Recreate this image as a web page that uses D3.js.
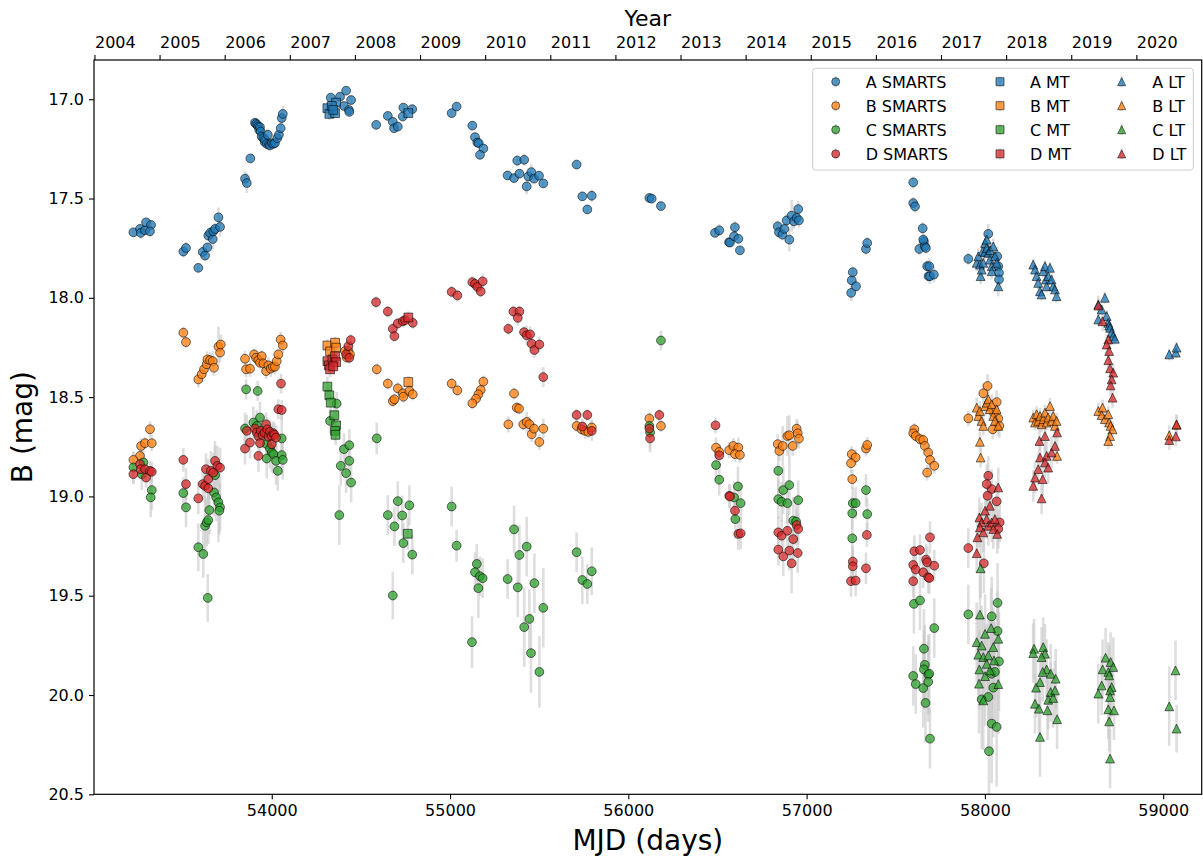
<!DOCTYPE html>
<html>
<head>
<meta charset="utf-8">
<script src="https://cdn.jsdelivr.net/npm/d3@7"></script>
<style>
  body { margin: 0; background: #fff; }
  text { font-family: "DejaVu Sans", sans-serif; fill: #000; }
</style>
</head>
<body>
<svg id="chart" width="1203" height="864"></svg>
<script>
// Light curves of the four lensed images, rows are [MJD, B mag, error]

const aSmarts = [
  [53224,17.670,0.02],[53261,17.653,0.02],[53265,17.673,0.03],[53289,17.660,0.02],[53295,17.620,0.02],[53323,17.633,0.02],[53317,17.665,0.03],
  [53504,17.767,0.03],[53519,17.749,0.03],[53588,17.849,0.02],[53613,17.769,0.03],[53626,17.787,0.03],[53639,17.746,0.02],[53644,17.687,0.02],
  [53654,17.673,0.03],[53669,17.704,0.05],[53672,17.665,0.03],[53682,17.653,0.03],[53701,17.595,0.05],[53710,17.643,0.05],
  [53850,17.400,0.04],[53860,17.422,0.05],[53880,17.298,0.02],[53906,17.118,0.02],[53912,17.124,0.02],[53920,17.130,0.02],[53925,17.138,0.02],
  [53930,17.155,0.02],[53934,17.141,0.02],[53938,17.163,0.03],[53944,17.188,0.02],[53953,17.196,0.03],[53960,17.215,0.03],[53962,17.205,0.03],
  [53972,17.225,0.03],[53978,17.179,0.03],[53985,17.228,0.02],[53990,17.233,0.02],[54000,17.221,0.02],[54009,17.225,0.02],[54018,17.221,0.02],
  [54031,17.196,0.02],[54040,17.179,0.02],[54050,17.146,0.03],[54056,17.095,0.03],[54062,17.074,0.04],
  [54331,16.992,0.02],[54383,16.987,0.02],[54417,16.957,0.02],[54445,17.004,0.02],[54405,17.034,0.02],[54433,17.054,0.02],[54435,17.064,0.02],
  [54586,17.129,0.02],[54651,17.084,0.02],[54679,17.114,0.02],[54686,17.146,0.02],[54707,17.138,0.02],[54735,17.087,0.02],[54738,17.042,0.02],[54788,17.050,0.02],
  [55009,17.070,0.02],[55037,17.037,0.02],[55125,17.133,0.02],[55140,17.191,0.02],[55153,17.218,0.02],[55161,17.221,0.02],[55187,17.248,0.02],[55168,17.280,0.02],
  [55377,17.309,0.03],[55416,17.305,0.03],[55323,17.384,0.02],[55359,17.397,0.02],[55389,17.375,0.02],[55430,17.439,0.04],[55439,17.389,0.02],
  [55456,17.367,0.04],[55471,17.400,0.02],[55499,17.385,0.02],[55523,17.424,0.02],
  [55710,17.329,0.02],[55742,17.489,0.02],[55770,17.555,0.02],[55795,17.486,0.03],
  [56118,17.497,0.02],[56131,17.501,0.02],[56183,17.538,0.02],
  [56486,17.673,0.02],[56510,17.660,0.03],[56565,17.720,0.02],[56570,17.722,0.02],[56598,17.645,0.03],[56593,17.690,0.02],[56617,17.703,0.02],[56626,17.761,0.02],
  [56838,17.640,0.03],[56845,17.670,0.02],[56864,17.682,0.03],[56875,17.653,0.03],[56888,17.610,0.03],[56903,17.707,0.06],[56916,17.586,0.08],
  [56929,17.615,0.04],[56944,17.598,0.03],[56953,17.553,0.04],[56957,17.610,0.04],
  [57250,17.975,0.04],[57253,17.912,0.04],[57259,17.871,0.03],[57277,17.942,0.03],[57333,17.754,0.03],[57340,17.724,0.03],
  [57598,17.419,0.03],[57598,17.523,0.03],[57608,17.540,0.03],[57651,17.650,0.03],[57658,17.716,0.03],[57632,17.754,0.03],[57663,17.741,0.03],
  [57669,17.749,0.03],[57676,17.841,0.03],[57684,17.891,0.03],[57688,17.841,0.04],[57692,17.891,0.04],[57714,17.883,0.04],[57654,17.707,0.03],
  [57907,17.804,0.03],[58019,17.678,0.05],[58069,17.791,0.05],[58075,17.841,0.05],[58079,17.874,0.05],[58079,17.908,0.05]
];
const bSmarts = [
  [53317,18.662,0.04],[53267,18.746,0.04],[53289,18.732,0.03],[53327,18.732,0.04],[53261,18.796,0.05],[53224,18.816,0.04],
  [53504,18.176,0.03],[53519,18.223,0.03],[53588,18.411,0.04],[53607,18.385,0.04],[53620,18.360,0.04],[53635,18.335,0.04],[53639,18.310,0.04],
  [53654,18.314,0.04],[53669,18.319,0.05],[53676,18.352,0.04],[53701,18.246,0.10],[53710,18.276,0.05],[53714,18.235,0.05],
  [53850,18.307,0.04],[53856,18.360,0.04],[53878,18.357,0.04],[53901,18.285,0.03],[53912,18.302,0.03],[53925,18.314,0.03],[53934,18.327,0.03],
  [53944,18.294,0.03],[53953,18.330,0.04],[53968,18.369,0.04],[53981,18.340,0.04],[53994,18.357,0.04],[54006,18.347,0.03],[54018,18.347,0.04],
  [54028,18.319,0.05],[54037,18.285,0.03],[54050,18.210,0.04],[54062,18.240,0.04],
  [54411,18.268,0.03],[54430,18.268,0.03],[54439,18.285,0.03],[54420,18.300,0.03],
  [54589,18.360,0.03],[54651,18.432,0.03],[54707,18.456,0.03],[54735,18.481,0.03],[54738,18.498,0.03],[54679,18.520,0.03],[54688,18.511,0.03],
  [54772,18.469,0.03],[54791,18.486,0.03],
  [55009,18.432,0.03],[55041,18.466,0.03],[55187,18.422,0.03],[55172,18.464,0.03],[55159,18.486,0.03],[55146,18.508,0.03],[55125,18.531,0.03],
  [55359,18.482,0.03],[55374,18.553,0.03],[55387,18.558,0.03],[55327,18.637,0.04],[55411,18.637,0.03],[55430,18.625,0.05],[55445,18.637,0.04],
  [55458,18.687,0.04],[55471,18.659,0.03],[55501,18.726,0.04],[55523,18.659,0.05],
  [55710,18.645,0.03],[55738,18.662,0.03],[55757,18.670,0.04],[55776,18.675,0.03],[55795,18.653,0.04],
  [56118,18.608,0.03],[56183,18.645,0.03],
  [56492,18.754,0.05],[56510,18.776,0.04],[56566,18.767,0.04],[56589,18.746,0.04],[56617,18.754,0.05],[56598,18.787,0.04],[56626,18.791,0.04],
  [56838,18.737,0.05],[56847,18.771,0.05],[56866,18.746,0.10],[56892,18.696,0.10],[56903,18.692,0.10],[56922,18.746,0.05],[56944,18.659,0.05],
  [56950,18.682,0.06],[56957,18.709,0.05],
  [57253,18.787,0.04],[57275,18.804,0.04],[57249,18.833,0.05],[57256,18.913,0.05],[57333,18.759,0.04],[57340,18.741,0.04],
  [57604,18.662,0.03],[57598,18.682,0.03],[57612,18.696,0.03],[57636,18.712,0.03],[57654,18.716,0.03],[57663,18.746,0.03],[57676,18.880,0.04],
  [57682,18.779,0.04],[57692,18.816,0.04],[57716,18.846,0.04],
  [57907,18.607,0.04],[58015,18.444,0.06],[57991,18.481,0.05],[58066,18.525,0.06],[58075,18.608,0.06],[58081,18.645,0.06],[58044,18.662,0.05],[58051,18.578,0.06]
];
const cSmarts = [
  [53224,18.854,0.08],[53280,18.829,0.08],[53271,18.888,0.08],[53327,18.968,0.10],[53321,19.005,0.10],
  [53504,18.983,0.08],[53519,19.055,0.10],[53588,19.256,0.12],[53616,19.290,0.12],[53641,19.511,0.12],[53626,19.148,0.15],[53635,19.131,0.12],
  [53644,19.119,0.12],[53650,19.069,0.12],[53682,18.893,0.15],[53676,18.980,0.12],[53688,19.005,0.12],[53701,19.030,0.20],[53710,19.055,0.12],[53706,19.072,0.12],
  [53856,18.461,0.05],[53921,18.469,0.05],[53850,18.658,0.08],[53897,18.628,0.08],[53934,18.603,0.08],[53916,18.645,0.08],[53953,18.678,0.08],
  [53972,18.737,0.10],[53990,18.759,0.10],[54000,18.779,0.10],[53972,18.809,0.10],[54009,18.787,0.10],[54024,18.821,0.12],[54034,18.871,0.10],
  [54056,18.708,0.12],[54056,18.792,0.10],[54062,18.816,0.10],
  [54327,18.620,0.06],[54364,18.533,0.06],[54405,18.762,0.08],[54435,18.742,0.08],[54387,18.846,0.10],[54435,18.821,0.08],[54417,18.883,0.10],
  [54445,18.930,0.10],[54379,19.094,0.15],
  [54589,18.708,0.08],[54679,19.499,0.12],[54738,19.235,0.10],[54788,19.293,0.10],[54707,19.024,0.10],[54772,19.045,0.10],[54651,19.094,0.10],
  [54732,19.096,0.10],[54688,19.151,0.10],
  [55009,19.051,0.10],[55037,19.248,0.08],[55123,19.734,0.13],[55150,19.340,0.10],[55140,19.382,0.10],[55168,19.402,0.10],[55183,19.412,0.10],[55159,19.462,0.15],
  [55359,19.166,0.12],[55323,19.416,0.10],[55389,19.295,0.15],[55430,19.253,0.15],[55380,19.458,0.15],[55473,19.437,0.15],[55445,19.617,0.15],
  [55416,19.658,0.20],[55454,19.789,0.20],[55501,19.884,0.18],[55523,19.561,0.20],
  [55710,19.281,0.10],[55742,19.421,0.12],[55770,19.441,0.10],[55795,19.377,0.12],
  [56183,18.215,0.05],[56118,18.645,0.05],[56122,18.678,0.10],
  [56492,18.842,0.08],[56510,18.916,0.08],[56593,19.005,0.08],[56615,18.950,0.10],[56630,19.034,0.10],[56600,19.114,0.10],
  [56841,18.871,0.12],[56869,18.968,0.12],[56903,18.943,0.15],[56841,19.014,0.10],[56860,19.027,0.10],[56892,19.034,0.10],[56953,19.019,0.10],
  [56925,19.122,0.12],[56941,19.127,0.12],
  [57259,19.034,0.08],[57275,19.034,0.08],[57256,19.085,0.08],[57333,18.968,0.08],[57340,19.089,0.08],[57256,19.211,0.10],
  [57602,19.541,0.15],[57636,19.524,0.15],[57658,19.767,0.20],[57663,19.848,0.20],[57658,19.871,0.20],[57598,19.904,0.15],[57612,19.945,0.15],
  [57654,19.965,0.20],[57682,19.898,0.20],[57667,20.040,0.20],[57692,20.220,0.15],[57716,19.663,0.15],[57688,19.893,0.20],[57682,19.934,0.20],
  [57907,19.594,0.15],[58038,19.604,0.20],[58071,19.536,0.20],[58071,19.678,0.20],[58079,19.831,0.25],[58038,19.893,0.25],[58047,19.963,0.25],
  [58019,20.010,0.25],[57982,20.022,0.25],[58038,20.144,0.30],[58066,20.161,0.30],[58023,20.283,0.30],[58056,19.884,0.25]
];
const dSmarts = [
  [53224,18.888,0.05],[53261,18.838,0.05],[53265,18.863,0.05],[53289,18.863,0.05],[53295,18.905,0.05],[53317,18.871,0.05],[53327,18.876,0.05],
  [53504,18.816,0.06],[53519,18.938,0.08],[53588,19.010,0.08],[53613,18.938,0.08],[53626,18.947,0.10],[53644,18.960,0.10],[53631,18.863,0.08],
  [53644,18.913,0.10],[53658,18.871,0.10],[53672,18.880,0.10],[53682,18.821,0.10],[53695,18.846,0.10],[53710,18.855,0.10],
  [54052,18.432,0.05],[54037,18.561,0.05],[54056,18.565,0.05],[53860,18.670,0.08],[53850,18.759,0.08],[53878,18.729,0.08],[53906,18.658,0.06],
  [53916,18.678,0.06],[53925,18.696,0.06],[53938,18.670,0.06],[53949,18.692,0.06],[53960,18.680,0.06],[53968,18.637,0.06],[53975,18.662,0.06],
  [53982,18.700,0.06],[53990,18.675,0.06],[54000,18.696,0.06],[54009,18.682,0.06],[54015,18.690,0.06],[53934,18.732,0.06],[54000,18.737,0.06],
  [53925,18.796,0.08],[54024,18.704,0.06],
  [54430,18.243,0.03],[54443,18.213,0.03],[54417,18.285,0.03],[54435,18.302,0.03],
  [54585,18.022,0.03],[54651,18.069,0.03],[54679,18.156,0.03],[54688,18.193,0.03],[54707,18.129,0.03],[54735,18.118,0.03],[54748,18.113,0.03],[54791,18.126,0.03],
  [55009,17.970,0.03],[55041,17.988,0.03],[55125,17.921,0.03],[55140,17.930,0.03],[55153,17.945,0.03],[55172,17.968,0.03],[55183,17.917,0.04],
  [55327,18.156,0.03],[55355,18.069,0.03],[55389,18.069,0.03],[55380,18.101,0.04],[55415,18.173,0.03],[55430,18.189,0.05],[55449,18.184,0.04],
  [55458,18.231,0.04],[55473,18.263,0.04],[55501,18.235,0.04],[55523,18.399,0.05],
  [55710,18.590,0.03],[55770,18.590,0.03],[55742,18.648,0.04],[55795,18.670,0.05],
  [56174,18.590,0.03],[56118,18.658,0.05],[56122,18.708,0.05],
  [56489,18.642,0.04],[56510,18.793,0.05],[56566,18.997,0.06],[56570,19.000,0.06],[56598,19.072,0.06],[56617,19.189,0.08],[56630,19.186,0.08],
  [56944,19.144,0.08],[56953,19.164,0.08],[56841,19.181,0.08],[56860,19.198,0.08],[56892,19.173,0.10],[56925,19.215,0.10],[56841,19.268,0.08],
  [56869,19.302,0.10],[56903,19.273,0.10],[56916,19.337,0.15],[56950,19.285,0.10],
  [57259,19.328,0.08],[57259,19.352,0.08],[57249,19.427,0.08],[57275,19.424,0.08],[57333,19.362,0.08],[57338,19.194,0.06],
  [57604,19.276,0.08],[57636,19.270,0.08],[57598,19.345,0.08],[57612,19.368,0.08],[57654,19.382,0.08],[57670,19.318,0.08],[57676,19.332,0.08],
  [57682,19.407,0.08],[57598,19.427,0.08],[57688,19.411,0.08],[57716,19.349,0.08],[57692,19.206,0.08],
  [57907,19.260,0.10],[57994,19.337,0.15],[58019,18.896,0.10],[58038,18.963,0.10],[58066,19.025,0.10],[58010,18.938,0.10],[58015,18.997,0.10],
  [58083,19.131,0.10],[58075,19.164,0.10]
];

const aMT = [[54312,17.045,0.03],[54323,17.074,0.03],[54355,17.070,0.02],[54361,17.017,0.02],[54337,17.034,0.02],[54345,17.054,0.02],[54766,17.070,0.02]];
const bMT = [[54312,18.240,0.03],[54327,18.270,0.03],[54355,18.226,0.03],[54361,18.251,0.03],[54766,18.424,0.03]];
const cMT = [[54312,18.447,0.05],[54323,18.491,0.05],[54331,18.528,0.05],[54351,18.591,0.05],[54361,18.642,0.05],[54355,18.670,0.05],[54358,18.690,0.05],[54763,19.188,0.08]];
const dMT = [[54312,18.319,0.04],[54320,18.340,0.04],[54327,18.360,0.04],[54340,18.310,0.04],[54355,18.294,0.04],[54361,18.324,0.04],[54345,18.345,0.04],[54766,18.099,0.03]];

const aLT = [
  [57954,17.824,0.04],[57963,17.791,0.04],[57972,17.833,0.04],[57976,17.891,0.04],[57982,17.858,0.04],[57987,17.766,0.04],[57991,17.824,0.04],
  [58000,17.770,0.04],[58001,17.724,0.04],[58010,17.749,0.04],[58010,17.707,0.04],[58019,17.774,0.04],[58028,17.808,0.04],[58030,17.760,0.04],
  [58038,17.841,0.04],[58038,17.866,0.04],[58047,17.741,0.04],[58056,17.791,0.04],[58066,17.824,0.04],[58075,17.942,0.05],
  [58271,17.833,0.03],[58281,17.858,0.03],[58290,17.891,0.03],[58299,17.925,0.03],[58309,17.967,0.03],[58318,17.983,0.03],[58327,17.866,0.03],
  [58337,17.841,0.03],[58342,17.908,0.03],[58346,17.942,0.03],[58355,17.891,0.03],[58365,17.849,0.03],[58374,17.908,0.03],[58383,17.942,0.03],
  [58393,17.958,0.03],[58402,17.992,0.03],
  [58636,18.034,0.03],[58636,18.109,0.03],[58655,18.059,0.03],[58673,18.000,0.03],[58683,18.092,0.03],[58692,18.126,0.03],[58697,18.140,0.03],
  [58702,18.151,0.03],[58711,18.176,0.03],[58720,18.193,0.03],[58729,18.206,0.03],
  [59034,18.285,0.03],[59071,18.276,0.03],[59075,18.251,0.03]
];
const bLT = [
  [57954,18.553,0.05],[57963,18.595,0.05],[57972,18.570,0.05],[57982,18.620,0.05],[57991,18.645,0.05],[58001,18.545,0.05],[58010,18.528,0.05],
  [58019,18.511,0.05],[58028,18.561,0.05],[58038,18.536,0.05],[58047,18.595,0.05],[58056,18.620,0.05],[58066,18.561,0.05],[58075,18.645,0.05],
  [57972,18.725,0.05],[57976,18.804,0.05],
  [58271,18.603,0.04],[58281,18.628,0.04],[58290,18.586,0.04],[58299,18.620,0.04],[58309,18.595,0.04],[58318,18.637,0.04],[58327,18.611,0.04],
  [58337,18.578,0.04],[58346,18.628,0.04],[58355,18.603,0.04],[58365,18.545,0.04],[58374,18.620,0.04],[58383,18.595,0.04],[58393,18.645,0.04],
  [58402,18.620,0.04],[58405,18.796,0.04],
  [58636,18.570,0.04],[58660,18.553,0.04],[58655,18.591,0.04],[58673,18.611,0.04],[58692,18.586,0.04],[58697,18.628,0.04],[58705,18.645,0.04],
  [58716,18.662,0.04],[58702,18.696,0.04],[58692,18.721,0.04],
  [59034,18.693,0.05],[59075,18.640,0.05]
];
const cLT = [
  [57976,19.362,0.15],[57972,19.595,0.20],[58001,19.692,0.20],[57954,19.734,0.20],[57982,19.751,0.20],[58035,19.663,0.20],[58075,19.717,0.20],
  [58047,19.759,0.20],[57963,19.797,0.20],[57991,19.809,0.20],[58019,19.801,0.20],[58051,19.826,0.20],[57969,19.871,0.20],[58001,19.905,0.25],
  [58028,19.876,0.25],[57967,19.943,0.25],[58075,19.945,0.25],[57991,20.027,0.25],[58010,19.843,0.20],
  [58276,19.767,0.15],[58271,19.789,0.15],[58327,19.759,0.15],[58337,19.792,0.15],[58318,19.809,0.15],[58346,19.871,0.15],[58324,19.884,0.15],
  [58369,19.893,0.15],[58397,19.918,0.15],[58309,19.935,0.15],[58287,19.963,0.15],[58369,19.985,0.15],[58393,19.977,0.15],[58355,20.024,0.15],
  [58383,20.015,0.15],[58281,20.044,0.15],[58303,20.069,0.15],[58351,20.077,0.15],[58405,20.122,0.15],[58309,20.211,0.20],
  [58677,19.812,0.15],[58705,19.834,0.15],[58720,19.859,0.15],[58660,19.871,0.15],[58692,19.884,0.15],[58697,19.901,0.15],[58655,19.952,0.15],
  [58711,19.960,0.15],[58702,19.977,0.15],[58636,19.993,0.15],[58702,20.010,0.15],[58692,20.072,0.15],[58724,20.077,0.15],[58697,20.133,0.15],[58702,20.320,0.15],
  [59069,19.876,0.15],[59034,20.057,0.20],[59075,20.169,0.12]
];
const dLT = [
  [57954,19.286,0.10],[57969,19.106,0.10],[57982,19.131,0.10],[57972,19.156,0.10],[57991,19.181,0.10],[58001,19.072,0.10],[58010,19.114,0.10],
  [58019,19.148,0.10],[58028,19.047,0.10],[58038,19.131,0.10],[58047,19.164,0.10],[58056,19.114,0.10],[58069,19.189,0.10],[58075,18.955,0.10],
  [57958,19.206,0.10],
  [58306,18.721,0.08],[58337,18.696,0.08],[58405,18.678,0.08],[58309,18.804,0.08],[58346,18.796,0.08],[58374,18.779,0.08],[58393,18.746,0.08],
  [58337,18.829,0.08],[58355,18.855,0.08],[58299,18.863,0.08],[58281,18.905,0.08],[58324,18.913,0.08],[58271,18.947,0.08],[58318,19.010,0.08],
  [58636,18.039,0.05],[58660,18.118,0.05],[58692,18.210,0.05],[58683,18.235,0.05],[58697,18.268,0.05],[58692,18.314,0.05],[58702,18.355,0.05],
  [58720,18.377,0.05],[58711,18.411,0.05],[58705,18.441,0.05],[58716,18.503,0.05],
  [59034,18.716,0.05],[59071,18.698,0.05],[59075,18.637,0.05]
];

const xTicks = [54000, 55000, 56000, 57000, 58000, 59000];
const yTicks = [17.0, 17.5, 18.0, 18.5, 19.0, 19.5, 20.0, 20.5];
const yearTicks = d3.range(2004, 2021);

const palette = { A: "#1f77b4", B: "#ff7f0e", C: "#2ca02c", D: "#d62728" };
const series = [
  { name: "A SMARTS", img: "A", shape: "circle", data: aSmarts },
  { name: "B SMARTS", img: "B", shape: "circle", data: bSmarts },
  { name: "C SMARTS", img: "C", shape: "circle", data: cSmarts },
  { name: "D SMARTS", img: "D", shape: "circle", data: dSmarts },
  { name: "A MT", img: "A", shape: "square", data: aMT },
  { name: "B MT", img: "B", shape: "square", data: bMT },
  { name: "C MT", img: "C", shape: "square", data: cMT },
  { name: "D MT", img: "D", shape: "square", data: dMT },
  { name: "A LT", img: "A", shape: "triangle", data: aLT },
  { name: "B LT", img: "B", shape: "triangle", data: bLT },
  { name: "C LT", img: "C", shape: "triangle", data: cLT },
  { name: "D LT", img: "D", shape: "triangle", data: dLT }
];

const box = { left: 94, right: 1201.7, top: 60, bottom: 794.3 };
const svg = d3.select("#chart");

const xScale = d3.scaleLinear().domain([53003, 59216]).range([box.left, box.right]);
const yScale = d3.scaleLinear().domain([16.8025, 20.5]).range([box.top, box.bottom]);
const mjdToYear = m => 2000 + (m - 51544.5) / 365.25;
const yearScale = d3.scaleLinear().domain(xScale.domain().map(mjdToYear)).range(xScale.range());

const S = 8.8; // marker size in px
function symbolPath(shape, s) {
  const h = s / 2;
  if (shape === "square") return `M${-h},${-h}H${h}V${h}H${-h}Z`;
  return `M0,${-h}L${h},${h}L${-h},${h}Z`;
}
function drawMarker(g, shape, color, cx, cy, s) {
  let el;
  if (shape === "circle") {
    el = g.append("circle").attr("cx", cx).attr("cy", cy).attr("r", s / 2);
  } else {
    el = g.append("path").attr("d", symbolPath(shape, s)).attr("transform", `translate(${cx},${cy})`);
  }
  el.attr("fill", color).attr("fill-opacity", 0.75)
    .attr("stroke", "#000").attr("stroke-opacity", 0.7).attr("stroke-width", 0.8);
  return el;
}

svg.append("defs").append("clipPath").attr("id", "plotclip")
  .append("rect").attr("x", box.left).attr("y", box.top)
  .attr("width", box.right - box.left).attr("height", box.bottom - box.top);

const plot = svg.append("g").attr("clip-path", "url(#plotclip)");

// error bars sit beneath every marker
const barLayer = plot.append("g");
series.forEach(s => {
  barLayer.selectAll(null).data(s.data).enter().append("line")
    .attr("x1", d => xScale(d[0])).attr("x2", d => xScale(d[0]))
    .attr("y1", d => yScale(d[1] - d[2])).attr("y2", d => yScale(d[1] + d[2]))
    .attr("stroke", "#c8c8c8").attr("stroke-opacity", 0.6).attr("stroke-width", 2.6);
});

const markLayer = plot.append("g");
series.forEach(s => {
  const g = markLayer.append("g");
  s.data.forEach(d => drawMarker(g, s.shape, palette[s.img], xScale(d[0]), yScale(d[1]), S));
});

// axes
const axisG = svg.append("g");
const tickLen = 5;

const axBottom = axisG.append("g").attr("transform", `translate(0,${box.bottom})`)
  .call(d3.axisBottom(xScale).tickValues(xTicks).tickFormat(d3.format("d")).tickSizeOuter(0).tickSize(tickLen).tickPadding(5));
const axLeft = axisG.append("g").attr("transform", `translate(${box.left},0)`)
  .call(d3.axisLeft(yScale).tickValues(yTicks).tickFormat(d3.format(".1f")).tickSizeOuter(0).tickSize(tickLen).tickPadding(5));
const axTop = axisG.append("g").attr("transform", `translate(0,${box.top})`)
  .call(d3.axisTop(yearScale).tickValues(yearTicks).tickFormat(d3.format("d")).tickSizeOuter(0).tickSize(tickLen).tickPadding(7));
axTop.selectAll(".tick text").attr("text-anchor", "start");

[axBottom, axLeft, axTop].forEach(a => {
  a.select(".domain").remove();
  a.selectAll(".tick line").attr("stroke", "#000").attr("stroke-width", 1.1);
  a.selectAll(".tick text").attr("font-size", 16).attr("font-family", "DejaVu Sans").attr("fill", "#000");
});

axisG.append("rect").attr("x", box.left).attr("y", box.top)
  .attr("width", box.right - box.left).attr("height", box.bottom - box.top)
  .attr("fill", "none").attr("stroke", "#000").attr("stroke-width", 1.2);

// axis titles
svg.append("text").attr("x", (box.left + box.right) / 2).attr("y", 850)
  .attr("text-anchor", "middle").attr("font-size", 28).text("MJD (days)");
svg.append("text").attr("transform", `translate(32,${(box.top + box.bottom) / 2}) rotate(-90)`)
  .attr("text-anchor", "middle").attr("font-size", 28).text("B (mag)");
svg.append("text").attr("x", (box.left + box.right) / 2).attr("y", 26)
  .attr("text-anchor", "middle").attr("font-size", 22).text("Year");

// legend, three columns
const leg = svg.append("g");
leg.append("rect").attr("x", 812.7).attr("y", 68.3).attr("width", 380.6).attr("height", 101.7)
  .attr("rx", 3).attr("fill", "#fff").attr("fill-opacity", 0.8).attr("stroke", "#cccccc").attr("stroke-width", 1);
const colX = [835.7, 1000, 1121.7];
const textX = [865.7, 1030, 1152.3];
const rowY = [81.7, 105.7, 129.7, 153.9];
series.forEach((s, i) => {
  const c = Math.floor(i / 4), r = i % 4;
  const cx = colX[c], cy = rowY[r];
  leg.append("line").attr("x1", cx).attr("x2", cx).attr("y1", cy - 5.5).attr("y2", cy + 5.5)
    .attr("stroke", "#c8c8c8").attr("stroke-opacity", 0.6).attr("stroke-width", 2.6);
  drawMarker(leg, s.shape, palette[s.img], cx, cy, 8);
  leg.append("text").attr("x", textX[c]).attr("y", cy + 5.8).attr("font-size", 16).text(s.name);
});
</script>
</body>
</html>
